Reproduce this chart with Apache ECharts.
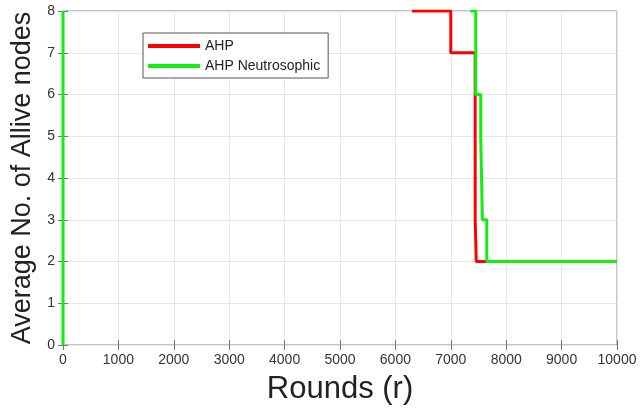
<!DOCTYPE html>
<html>
<head>
<meta charset="utf-8">
<script src="https://cdn.jsdelivr.net/npm/echarts@6/dist/echarts.min.js"></script>
<style>
  html, body { margin: 0; padding: 0; background: #fff; }
  #main { width: 643px; height: 410px; }
</style>
</head>
<body>
<div id="main"></div>
<script>
// step points: [round, alive nodes]
const ahp = [
  [6300, 8], [7000, 8], [7000, 7], [7440, 7], [7440, 3],
  [7460, 3], [7460, 2], [10000, 2]
];
const ahpNeutro = [
  [0, 0], [0, 8], [null, null],
  [7350, 8], [7450, 8], [7450, 6], [7540, 6], [7540, 5],
  [7555, 5], [7555, 4], [7570, 4], [7570, 3], [7650, 3],
  [7650, 2], [10000, 2]
];
const seriesNames = ['AHP', 'AHP Neutrosophic'];

const chart = echarts.init(document.getElementById('main'));

const tickLabel = { fontFamily: 'Liberation Sans', fontSize: 14, color: '#333' };

const option = {
  animation: false,
  backgroundColor: '#fff',
  color: ['#ff0000', '#11ee11'],
  grid: {
    left: 63, right: 26, top: 11, bottom: 60,
    show: true, borderColor: '#8a8a8a', borderWidth: 1
  },
  legend: {
    left: 143, top: 33,
    orient: 'vertical',
    data: seriesNames,
    icon: 'rect',
    itemWidth: 52, itemHeight: 4, itemGap: 6,
    padding: [6, 8, 5, 5],
    borderColor: '#555', borderWidth: 1,
    backgroundColor: '#fff',
    textStyle: { fontFamily: 'Liberation Sans', fontSize: 14, color: '#222' }
  },
  xAxis: [{
    type: 'value', min: 0, max: 10000, interval: 1000,
    name: 'Rounds (r)', nameLocation: 'middle', nameGap: 29,
    nameTextStyle: { fontFamily: 'Liberation Sans', fontSize: 31, color: '#222' },
    axisLine: { show: false },
    axisTick: { inside: true, length: 5, lineStyle: { color: '#777' } },
    axisLabel: Object.assign({ margin: 8, formatter: v => String(v) }, tickLabel),
    splitLine: { lineStyle: { color: '#e6e6e6' } }
  }, {
    type: 'value', min: 0, max: 10000, interval: 1000, position: 'top',
    axisLine: { show: false },
    axisTick: { inside: true, length: 5, lineStyle: { color: '#777' } },
    axisLabel: { show: false }, splitLine: { show: false }
  }],
  yAxis: [{
    type: 'value', min: 0, max: 8, interval: 1,
    name: 'Average No. of Allive nodes', nameLocation: 'middle', nameGap: 24,
    nameTextStyle: { fontFamily: 'Liberation Sans', fontSize: 27, color: '#222' },
    axisLine: { show: false },
    axisTick: { show: true, inside: true, length: 5, lineStyle: { color: '#777' } },
    axisLabel: Object.assign({ margin: 8 }, tickLabel),
    splitLine: { lineStyle: { color: '#e6e6e6' } }
  }, {
    type: 'value', min: 0, max: 8, interval: 1, position: 'right',
    axisLine: { show: false },
    axisTick: { show: true, inside: true, length: 5, lineStyle: { color: '#777' } },
    axisLabel: { show: false }, splitLine: { show: false }
  }],
  series: [{
    name: seriesNames[0], type: 'line', data: ahp,
    showSymbol: false, connectNulls: false,
    lineStyle: { width: 3 }, z: 2
  }, {
    name: seriesNames[1], type: 'line', data: ahpNeutro,
    showSymbol: false, connectNulls: false,
    lineStyle: { width: 3 }, z: 3
  }]
};

chart.setOption(option);
</script>
</body>
</html>
